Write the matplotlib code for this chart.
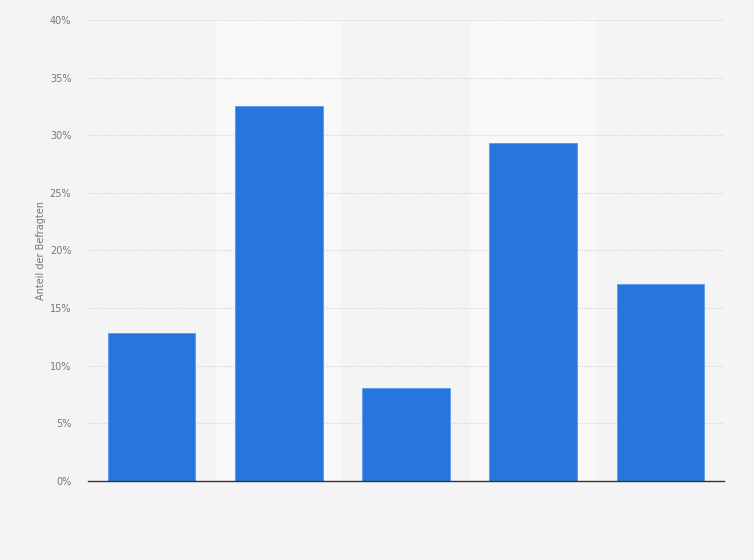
import numpy as np
from matplotlib import pyplot as plt
from matplotlib.ticker import FuncFormatter

categories = ["A", "B", "C", "D", "E"]
values = [12.8, 32.5, 8.1, 29.3, 17.1]
y_ticks = [0, 5, 10, 15, 20, 25, 30, 35, 40]

bg = "#f4f4f4"
band = "#f8f8f8"
bar_color = "#2876dd"

fig = plt.figure(figsize=(7.54, 5.6), dpi=100, facecolor=bg)
ax = fig.add_axes([0.1167, 0.1411, 0.8435, 0.8232], facecolor=bg)

x = np.arange(len(categories))
for i in x:
    if i % 2 == 1:
        ax.axvspan(i - 0.5, i + 0.5, color=band, zorder=0, lw=0)

ax.bar(x, values, width=0.69, color=bar_color, edgecolor="#5d9ae8", linewidth=0.6, zorder=3)

ax.set_xlim(-0.5, len(categories) - 0.5)
ax.set_ylim(0, 40)
ax.set_yticks(y_ticks)
ax.yaxis.set_major_formatter(FuncFormatter(lambda v, _: f"{v:.0f}%"))
ax.set_xticks([])
ax.grid(axis="y", color="#d8d8d8", linestyle=(0, (1, 1)), linewidth=0.8, zorder=1)
ax.tick_params(axis="y", length=0, labelsize=7, labelcolor="#777777", pad=12)

for side in ["top", "right", "left"]:
    ax.spines[side].set_visible(False)
ax.spines["bottom"].set_color("#333333")
ax.spines["bottom"].set_linewidth(1.0)
ax.spines["bottom"].set_zorder(4)

ax.set_ylabel("Anteil der Befragten", fontsize=7, color="#777777", labelpad=3)

plt.savefig("out.png", dpi=100, facecolor=bg)
